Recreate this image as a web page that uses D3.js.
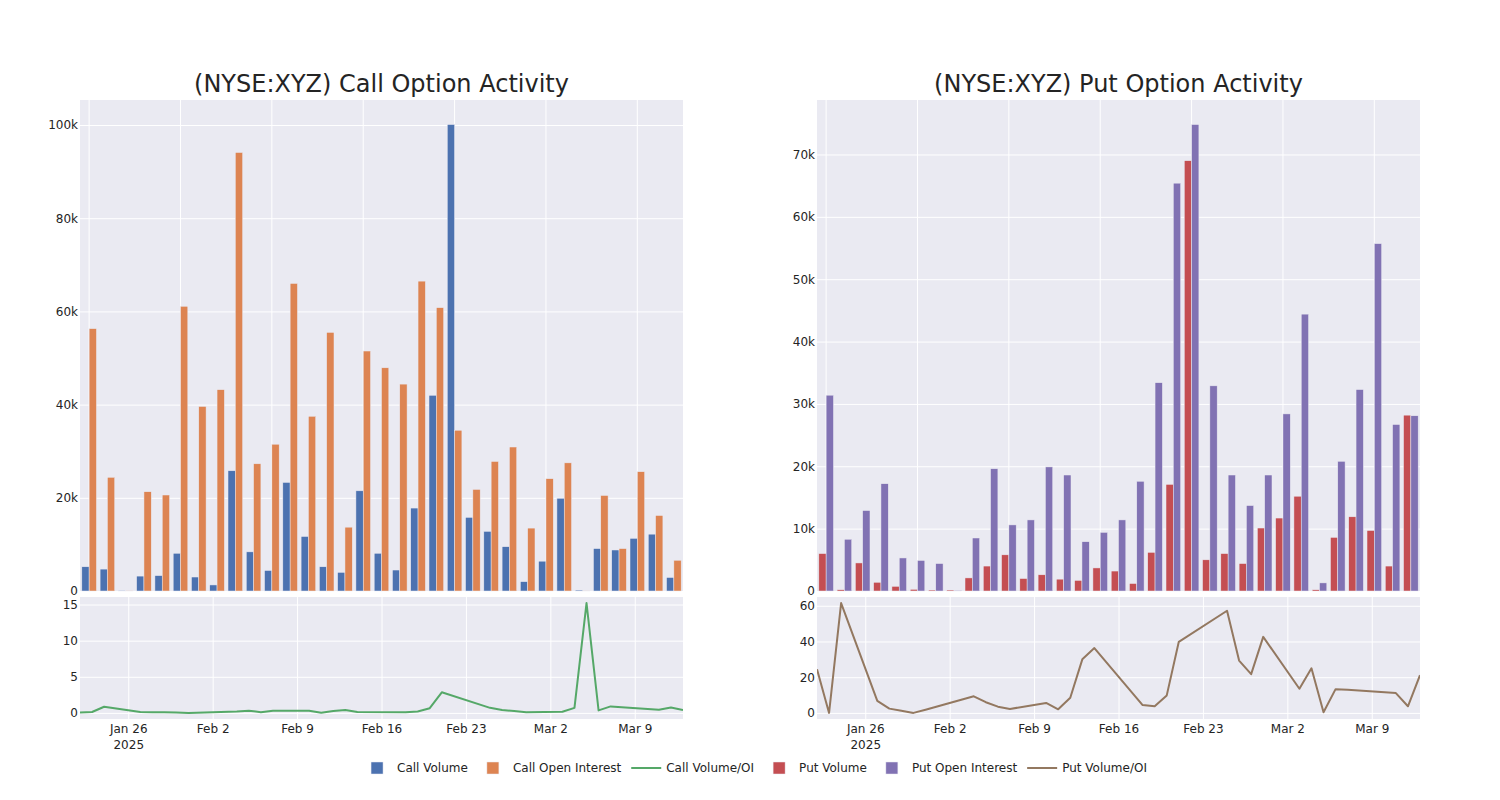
<!DOCTYPE html>
<html><head><meta charset="utf-8">
<script src="https://cdn.jsdelivr.net/npm/d3@7"></script>
<style>
body{margin:0;background:#fff}
svg text{font-family:"DejaVu Sans",Verdana,sans-serif;fill:rgb(36,36,36)}
</style>
</head><body>
<svg id="chart" width="1500" height="800"></svg>
<script>
// ---- data ----
const dates = ["2025-01-22","2025-01-23","2025-01-24","2025-01-27","2025-01-28","2025-01-29","2025-01-30","2025-01-31",
  "2025-02-04","2025-02-05","2025-02-06","2025-02-07","2025-02-10","2025-02-11","2025-02-12","2025-02-13","2025-02-14",
  "2025-02-18","2025-02-19","2025-02-20","2025-02-21","2025-02-25","2025-02-26","2025-02-27","2025-02-28",
  "2025-03-03","2025-03-04","2025-03-05","2025-03-06","2025-03-07","2025-03-11","2025-03-12","2025-03-13"];
const callVolume = [5200,4700,50,3200,3300,8100,3000,1300,25800,8400,4400,23300,11700,5200,4000,21500,8100,4500,17800,42000,100100,15800,12800,9500,2000,6400,19900,200,9100,8800,11300,12200,2900];
const callOpenInterest = [56300,24400,60,21300,20600,61100,39600,43200,94100,27300,31500,66000,37500,55500,13700,51500,47900,44400,66500,60800,34500,21800,27800,30900,13500,24100,27500,13,20500,9100,25600,16200,6600];
const callVolOI = [0.05,0.12,0.85,0.12,0.1,0.08,0.04,0.0,0.2,0.3,0.1,0.3,0.3,0.03,0.25,0.4,0.12,0.08,0.2,0.65,2.85,0.7,0.4,0.25,0.1,0.15,0.7,15.2,0.35,0.9,0.45,0.75,0.4];
const putVolume = [6000,200,4500,1400,750,270,160,160,2100,4000,5800,2000,2600,1900,1700,3700,3200,1200,6200,17100,69000,5000,6000,4400,10100,11700,15200,200,8600,11900,9700,4000,28200];
const putOpenInterest = [31400,8300,12900,17200,5300,4900,4400,100,8500,19600,10600,11400,19900,18600,7900,9400,11400,17600,33400,65400,74800,32900,18600,13700,18600,28400,44400,1300,20800,32300,55700,26700,28100];
const putVolOI = [24.4,0,61.5,6.7,2.4,1.2,0,1.8,9.3,6.0,3.5,2.2,5.6,2.0,8.5,30,36.3,4.4,3.7,9.8,39.8,57.2,29.3,21.7,42.6,13.5,25,0.4,13.3,12.9,11.1,3.7,21.1];
const callBarTicks = [0,20000,40000,60000,80000,100000];
const putBarTicks = [0,10000,20000,30000,40000,50000,60000,70000];
const callRatioTicks = [0,5,10,15];
const putRatioTicks = [0,20,40,60];
const weekTicks = ["2025-01-26","2025-02-02","2025-02-09","2025-02-16","2025-02-23","2025-03-02","2025-03-09"];
const titles = ["(NYSE:XYZ) Call Option Activity","(NYSE:XYZ) Put Option Activity"];
const legendNames = ["Call Volume","Call Open Interest","Call Volume/OI","Put Volume","Put Open Interest","Put Volume/OI"];
const colors = ["#4C72B0","#DD8452","#55A868","#C44E52","#8172B3","#937860"];

// ---- drawing ----
const svg = d3.select("#chart");
const parse = d3.utcParse("%Y-%m-%d");
const BG = "#EAEAF2", TXT = "rgb(36,36,36)", FONT = '"DejaVu Sans",Verdana,sans-serif';
const topY0 = 100, topY1 = 591, botY0 = 597, botY1 = 719;

const panels = [
  {x0:80, x1:683, title:titles[0], a:callVolume, b:callOpenInterest, r:callVolOI, ca:colors[0], cb:colors[1], cr:colors[2], bt:callBarTicks, rt:callRatioTicks},
  {x0:817, x1:1420, title:titles[1], a:putVolume, b:putOpenInterest, r:putVolOI, ca:colors[3], cb:colors[4], cr:colors[5], bt:putBarTicks, rt:putRatioTicks}
];

function styleAxis(g){
  g.attr("font-family",FONT).attr("font-size",12).attr("color",TXT);
  g.select(".domain").remove();
}

panels.forEach((p,pi)=>{
  const g = svg.append("g");
  const W = p.x1 - p.x0;
  // title
  g.append("text").attr("x",(p.x0+p.x1)/2).attr("y",92).attr("text-anchor","middle")
    .attr("font-size",24).text(p.title);

  // ---- top bar chart ----
  g.append("rect").attr("x",p.x0).attr("y",topY0).attr("width",W).attr("height",topY1-topY0).attr("fill",BG);
  const xb = d3.scaleBand().domain(dates).range([p.x0,p.x1]).paddingInner(0).paddingOuter(0);
  const bw = xb.bandwidth();
  const ymax = d3.max(p.a.concat(p.b))/0.95;
  const y = d3.scaleLinear().domain([0,ymax]).range([topY1,topY0]);
  // grid
  const gx = g.append("g").attr("transform",`translate(0,${topY1})`)
    .call(d3.axisBottom(xb).tickValues(dates.filter((d,i)=>i%5===0)).tickSize(-(topY1-topY0)).tickFormat(""));
  gx.select(".domain").remove();
  gx.selectAll("line").attr("stroke","#fff").attr("stroke-width",1);
  const gyg = g.append("g").attr("transform",`translate(${p.x0},0)`)
    .call(d3.axisLeft(y).tickValues(p.bt).tickSize(-W).tickFormat(""));
  gyg.select(".domain").remove();
  gyg.selectAll("line").attr("stroke","#fff").attr("stroke-width",1);
  const gy = g.append("g").attr("transform",`translate(${p.x0},0)`)
    .call(d3.axisLeft(y).tickValues(p.bt).tickFormat(d3.format("~s")).tickSize(0).tickPadding(2));
  styleAxis(gy);
  // bars
  const xs = d3.scaleBand().domain(["a","b"]).range([0,bw*0.8]);
  const series = [{k:"a",v:p.a,c:p.ca},{k:"b",v:p.b,c:p.cb}];
  series.forEach(s=>{
    g.append("g").selectAll("rect").data(dates).join("rect")
      .attr("x",(d)=>xb(d)+bw*0.1+xs(s.k))
      .attr("width",xs.bandwidth())
      .attr("y",(d,i)=>y(s.v[i]))
      .attr("height",(d,i)=>topY1-y(s.v[i]))
      .attr("fill",s.c).attr("stroke","rgb(234,234,242)").attr("stroke-width",0.5);
  });

  // ---- bottom ratio line ----
  g.append("rect").attr("x",p.x0).attr("y",botY0).attr("width",W).attr("height",botY1-botY0).attr("fill",BG);
  const dd = dates.map(parse);
  const xt = d3.scaleUtc().domain(d3.extent(dd)).range([p.x0,p.x1]);
  const rmin = d3.min(p.r), rmax = d3.max(p.r);
  const span = (rmax-rmin)/0.9;
  const yr = d3.scaleLinear().domain([rmin-0.05*span, rmax+0.05*span]).range([botY1,botY0]);
  const wk = weekTicks.map(parse);
  const gxb = g.append("g").attr("transform",`translate(0,${botY1})`)
    .call(d3.axisBottom(xt).tickValues(wk).tickSize(-(botY1-botY0)).tickFormat(""));
  gxb.select(".domain").remove();
  gxb.selectAll("line").attr("stroke","#fff").attr("stroke-width",1);
  const gyb = g.append("g").attr("transform",`translate(${p.x0},0)`)
    .call(d3.axisLeft(yr).tickValues(p.rt).tickSize(-W).tickFormat(""));
  gyb.select(".domain").remove();
  gyb.selectAll("line").attr("stroke","#fff").attr("stroke-width",1);
  const gyl = g.append("g").attr("transform",`translate(${p.x0},0)`)
    .call(d3.axisLeft(yr).tickValues(p.rt).tickFormat(d3.format("d")).tickSize(0).tickPadding(2));
  styleAxis(gyl);
  const gxl = g.append("g").attr("transform",`translate(0,${botY1})`)
    .call(d3.axisBottom(xt).tickValues(wk).tickSize(0).tickPadding(0).tickFormat(d3.utcFormat("%b %-d")));
  styleAxis(gxl);
  gxl.selectAll("text").attr("dy",null).attr("y",14);
  gxl.selectAll(".tick").filter((d,i)=>i===0).append("text")
    .attr("y",30).attr("text-anchor","middle").attr("fill","currentColor").text(d3.utcFormat("%Y"));
  const clipId = "clip"+pi;
  g.append("clipPath").attr("id",clipId).append("rect").attr("x",p.x0).attr("y",botY0).attr("width",W).attr("height",botY1-botY0);
  g.append("path").datum(p.r).attr("clip-path",`url(#${clipId})`)
    .attr("d",d3.line().x((v,i)=>xt(dd[i])).y(v=>yr(v)))
    .attr("fill","none").attr("stroke",p.cr).attr("stroke-width",2).attr("stroke-linejoin","round");
});

// ---- legend ----
const lg = svg.append("g").attr("font-family",FONT).attr("font-size",12);
const items = legendNames.map((n,i)=>({n, c:colors[i], line: i===2||i===5}));
let cx = 0;
items.forEach(it=>{
  const ig = lg.append("g").attr("transform",`translate(${cx},0)`);
  if(it.line){
    ig.append("line").attr("x1",5).attr("x2",35).attr("y1",0).attr("y2",0).attr("stroke",it.c).attr("stroke-width",2);
  } else {
    ig.append("rect").attr("x",14).attr("y",-6).attr("width",12).attr("height",12).attr("fill",it.c)
      .attr("stroke","rgb(234,234,242)").attr("stroke-width",0.5);
  }
  const t = ig.append("text").attr("x",40).attr("y",4.3).text(it.n);
  cx += 40 + t.node().getComputedTextLength() + 5;
});
const totalW = cx - 5;
lg.attr("transform",`translate(${752 - totalW/2},768)`);
</script>
</body></html>
